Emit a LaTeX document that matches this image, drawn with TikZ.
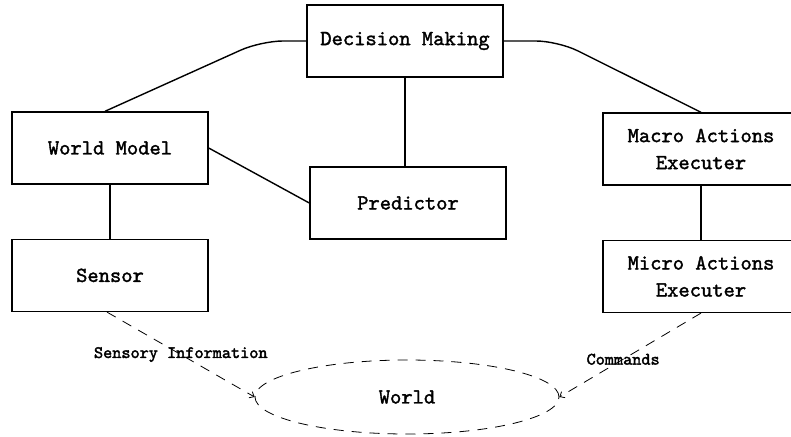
\documentclass[tikz,border=0pt]{standalone}
\usepackage{fontspec}
\newfontfamily\boxfont[FakeBold=1.6]{lmmono10-regular.otf}
\newfontfamily\labelfont[FakeBold=2.2]{lmmono10-regular.otf}
\usepackage{tikz}
\usetikzlibrary{shapes.geometric, arrows.meta, positioning}

\begin{document}
\begin{tikzpicture}[
    x=1pt, y=-1pt,
    node distance=54pt,
    block/.style={rectangle, draw=black, line width=1.4pt, minimum width=196pt, minimum height=72pt, align=center, inner sep=0pt, font=\boxfont\fontsize{21.5}{27}\selectfont},
    world/.style={ellipse, draw=black, line width=0.8pt, dash pattern=on 10pt off 8pt, minimum width=304pt, minimum height=74pt, inner sep=0pt, font=\boxfont\fontsize{21.5}{22}\selectfont},
    link/.style={line width=1.4pt, black},
    flow/.style={-{Straight Barb[length=4pt,width=7pt]}, line width=0.8pt, dash pattern=on 10pt off 8pt, black},
    flowlabel/.style={font=\labelfont\fontsize{17.4}{18}\selectfont, inner sep=1pt}
]
\useasboundingbox (0,0) rectangle (791,436);
\clip (0,0) rectangle (791,436);

% Nodes
\node[block] (decision) at (405,41) {Decision Making};
\node[block] (worldmodel) at (110,148) {World Model};
\node[block] (predictor) at (408,203) {Predictor};
\node[block, below=of worldmodel] (sensor) {Sensor};
\node[block] (macro) at (701,149) {Macro Actions\\Executer};
\node[block, below=of macro] (micro) {Micro Actions\\Executer};
\node[world] (world) at (407,397) {World};

% Links
\draw[link, rounded corners=22pt] (decision.west) -- (261,41) -- ([xshift=-5pt]worldmodel.north);
\draw[link, rounded corners=22pt] (decision.east) -- (558,41) -- (macro.north);
\draw[link] (decision.south) -- (decision.south |- predictor.north);
\draw[link] (worldmodel.east) -- (predictor.west);
\draw[link] (worldmodel.south) -- (sensor.north);
\draw[link] (macro.south) -- (micro.south |- micro.north);

% Flows to and from the world
\draw[flow] ([xshift=-3pt]sensor.south) -- node[flowlabel] {Sensory Information} (world.west);
\draw[flow] (micro.south) -- node[flowlabel, pos=0.55] {Commands} (world.east);

\end{tikzpicture}
\end{document}
